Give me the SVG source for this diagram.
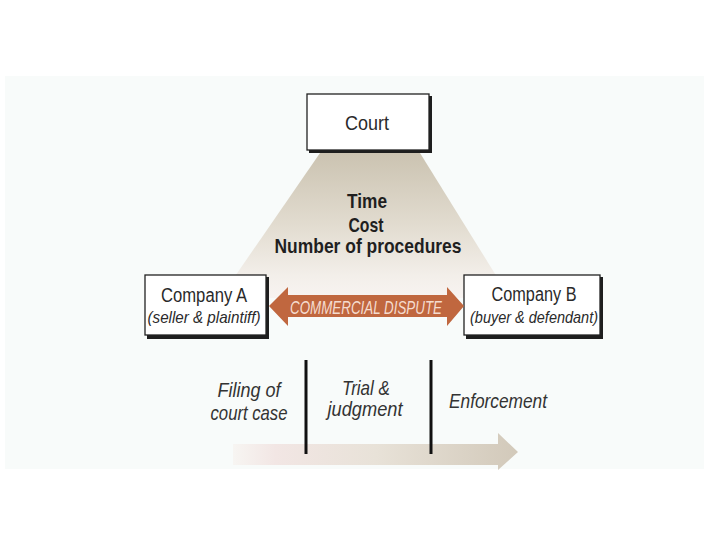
<svg xmlns="http://www.w3.org/2000/svg" width="728" height="546" viewBox="0 0 728 546">
<defs>
<linearGradient id="beam" x1="0" y1="0" x2="0" y2="1">
<stop offset="0" stop-color="#cbc3b1"/>
<stop offset="0.5" stop-color="#e2dcd0"/>
<stop offset="0.85" stop-color="#f3efea"/>
<stop offset="1" stop-color="#f8f3f1"/>
</linearGradient>
<linearGradient id="timeline" x1="0" y1="0" x2="1" y2="0">
<stop offset="0" stop-color="#f7f5f2"/>
<stop offset="0.15" stop-color="#f2e6e4"/>
<stop offset="0.5" stop-color="#e8e2d8"/>
<stop offset="1" stop-color="#d2c9ba"/>
</linearGradient>
<style>
.box{fill:#fff;stroke:#222;stroke-width:1.3}
.shadow{fill:#1e1e1e}
.t{font-family:"Liberation Sans",Arial,sans-serif;fill:#2a2a2a;text-anchor:middle}
.b{font-weight:bold;font-size:21px;fill:#1f1f1f}
.i{font-style:italic}
.stage{font-size:21px;fill:#333}
.sep{stroke:#111;stroke-width:3}
</style>
</defs>
<rect x="5" y="76" width="699" height="393" fill="#f8fbfa"/>
<polygon points="320,153 420,153 510,298 220,298" fill="url(#beam)"/>
<g id="metrics">
<text class="t b" x="367" y="208" textLength="40" lengthAdjust="spacingAndGlyphs">Time</text>
<text class="t b" x="366" y="232" textLength="35" lengthAdjust="spacingAndGlyphs">Cost</text>
<text class="t b" x="368" y="253" textLength="187" lengthAdjust="spacingAndGlyphs">Number of procedures</text>
</g>
<g id="court">
<rect class="shadow" x="309" y="96" width="123" height="57"/>
<rect class="box" x="307" y="94" width="122" height="56"/>
<text class="t" x="367" y="130" font-size="21" textLength="44" lengthAdjust="spacingAndGlyphs">Court</text>
</g>
<g id="companyA">
<rect class="shadow" x="147" y="277" width="122" height="62"/>
<rect class="box" x="145" y="275" width="121" height="60"/>
<text class="t" x="204" y="302" font-size="20" textLength="86" lengthAdjust="spacingAndGlyphs">Company A</text>
<text class="t i" x="204" y="323" font-size="17" textLength="113" lengthAdjust="spacingAndGlyphs">(seller &amp; plaintiff)</text>
</g>
<g id="companyB">
<rect class="shadow" x="466" y="277" width="137" height="62"/>
<rect class="box" x="464" y="275" width="136" height="60"/>
<text class="t" x="534" y="301" font-size="20" textLength="85" lengthAdjust="spacingAndGlyphs">Company B</text>
<text class="t i" x="534" y="323" font-size="17" textLength="128" lengthAdjust="spacingAndGlyphs">(buyer &amp; defendant)</text>
</g>
<g id="connectors">
<polygon id="dispute" points="269,306 288,287 288,295 447,295 447,287 464,306 447,326 447,317 288,317 288,326" fill="#c0673f"/>
<text class="t i" x="366" y="314" font-size="18" style="fill:#f5dccf" textLength="152" lengthAdjust="spacingAndGlyphs">COMMERCIAL DISPUTE</text>
<polygon id="timeline-arrow" points="233,444 498,444 498,433 518,452 498,470 498,465 233,465" fill="url(#timeline)"/>
<line class="sep" x1="306" y1="360" x2="306" y2="454"/>
<line class="sep" x1="431" y1="360" x2="431" y2="454"/>
</g>
<g id="stages">
<text class="t i stage" x="249" y="397" textLength="63" lengthAdjust="spacingAndGlyphs">Filing of</text>
<text class="t i stage" x="249" y="420" textLength="77" lengthAdjust="spacingAndGlyphs">court case</text>
<text class="t i stage" x="366" y="395" textLength="48" lengthAdjust="spacingAndGlyphs">Trial &amp;</text>
<text class="t i stage" x="365" y="416" textLength="75" lengthAdjust="spacingAndGlyphs">judgment</text>
<text class="t i stage" x="498" y="408" textLength="98" lengthAdjust="spacingAndGlyphs">Enforcement</text>
</g>
</svg>
